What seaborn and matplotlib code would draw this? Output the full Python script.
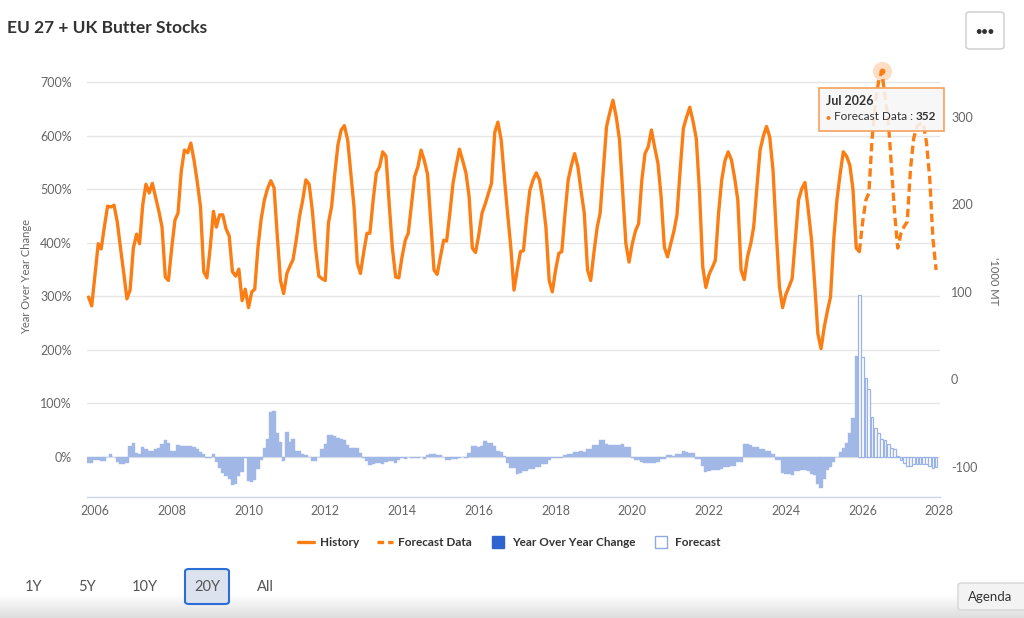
import numpy as np
import pandas as pd
import matplotlib
matplotlib.use("Agg")
import matplotlib.pyplot as plt
from matplotlib.lines import Line2D
from matplotlib.patches import FancyBboxPatch, Rectangle
from matplotlib.colors import LinearSegmentedColormap
import seaborn as sns

# ---------------------------------------------------------------
# Data
# EU 27 + UK butter stocks, '000 MT, monthly from Nov 2005
history_start = "2005-11-01"
history_stock = [
    94, 84,                                                       # 2005
    120, 155, 149, 175, 198, 197, 199, 180, 150, 122, 92, 102,    # 2006
    150, 166, 155, 200, 223, 213, 224, 208, 192, 174, 117, 113,   # 2007
    150, 182, 190, 238, 262, 259, 270, 250, 225, 197, 123, 116,   # 2008
    150, 192, 174, 188, 188, 172, 164, 123, 118, 126, 90, 103,    # 2009
    82, 100, 103, 151, 183, 205, 218, 227, 219, 165, 113, 98,     # 2010
    121, 130, 137, 160, 186, 205, 228, 223, 192, 150, 118, 115,   # 2011
    113, 179, 197, 235, 268, 285, 290, 274, 235, 197, 133, 121,   # 2012
    145, 167, 167, 205, 236, 243, 260, 255, 200, 150, 117, 116,   # 2013
    140, 159, 167, 200, 232, 243, 262, 250, 234, 180, 125, 120,   # 2014
    140, 159, 158, 190, 224, 245, 263, 250, 236, 209, 150, 145,   # 2015
    165, 190, 200, 212, 224, 282, 294, 274, 230, 190, 151, 102,   # 2016
    125, 146, 147, 185, 216, 228, 236, 228, 205, 174, 113, 100,   # 2017
    125, 144, 146, 190, 228, 245, 258, 243, 215, 190, 125, 113,   # 2018
    145, 174, 190, 240, 289, 305, 319, 300, 274, 215, 155, 134,   # 2019
    155, 170, 178, 228, 258, 266, 285, 265, 247, 209, 151, 140,   # 2020
    155, 170, 188, 240, 287, 300, 311, 295, 275, 215, 129, 105,   # 2021
    120, 128, 136, 190, 228, 250, 260, 251, 230, 205, 125, 114,   # 2022
    140, 155, 174, 220, 262, 278, 289, 277, 239, 170, 106, 82,    # 2023
    97, 106, 115, 160, 205, 218, 225, 194, 160, 110, 52, 35,      # 2024
    60, 79, 94, 160, 205, 235, 260, 255, 245, 217, 150, 146,      # 2025
]
# forecast, Dec 2025 .. Dec 2027
forecast_start = "2025-12-01"
forecast_stock = [
    146,
    180, 205, 213, 275, 315, 340, 352, 325, 297, 245, 190, 150,   # 2026
    167, 175, 180, 240, 275, 289, 292, 293, 270, 230, 160, 125,   # 2027
]

# year over year change, %, Nov 2005 .. Nov 2025
yoy_start = "2005-11-01"
yoy_history = [
    -12, -12,
    -6, -6, -8, -8, 0, 5, 0, -9, -14, -14, -12, 20,
    27, 7, 5, 19, 14, 11, 11, 14, 17, 25, 31, 27,
    11, 11, 23, 20, 20, 21, 20, 19, 15, 9, 5, -1,
    -1, 5, -9, -20, -29, -36, -41, -52, -50, -36, -28, -2,
    -44, -47, -43, -22, -6, 16, 33, 84, 86, 44, 28, -8,
    46, 28, 33, 12, 11, 6, 4, 0, -7, -7, 0, 14,
    24, 41, 41, 39, 36, 34, 31, 22, 17, 16, 16, 7,
    -2, -8, -15, -13, -12, -12, -13, -9, -7, -7, -12, -6,
    -2, -4, 0, -1, -1, -1, 0, -4, 3, 6, 6, 3,
    3, 0, -5, -5, -4, -4, -2, 0, -2, 7, 20, 21,
    19, 21, 30, 27, 27, 20, 12, 9, 1, -11, -20, -20,
    -31,
    -30, -27, -27, -22, -22, -19, -19, -14, -14, -6, -2, -2,
    -2, -2, 3, 6, 6, 9, 9, 11, 9, 14, 14, 22,
    22, 31, 31, 25, 23, 23, 23, 23, 25, 19, 19, -2,
    -6, -6, -9, -12, -12, -12, -12, -9, -3, -3, 4, 4,
    2, 6, 6, 11, 9, 7, 7, -3, -3, -16, -28, -26,
    -25, -25, -25, -22, -19, -19, -16, -16, -9, -9, 24, 24,
    22, 19, 19, 14, 14, 11, 11, 5, -6, -6, -30, -31,
    -31, -34, -26, -26, -24, -24, -26, -31, -34, -50, -58, -41,
    -25, -19, -9, 0, 9, 16, 26, 44, 72, 188,
]
# forecast year over year change, %, Dec 2025 .. Dec 2027
yoy_fc_start = "2025-12-01"
yoy_forecast = [
    303,
    186, 147, 126, 74, 54, 44, 34, 32, 25, 17, 14, 1,
    -6, -11, -16, -16, -14, -14, -14, -14, -14, -16, -21, -18,
]

year_ticks = list(range(2006, 2029, 2))
left_ticks = list(range(0, 800, 100))
right_ticks = list(range(-100, 400, 100))
range_buttons = ["1Y", "5Y", "10Y", "20Y", "All"]
legend_labels = ["History", "Forecast Data", "Year Over Year Change", "Forecast"]

ORANGE = "#fb7e14"
BLUE = "#2f63d0"
BAR_FILL = "#a1b8e7"
BAR_EDGE = "#9cb3e6"
GREY = "#666666"
DARK = "#333333"

hist_dates = pd.date_range(history_start, periods=len(history_stock), freq="MS")
fc_dates = pd.date_range(forecast_start, periods=len(forecast_stock), freq="MS")
yoy_dates = pd.date_range(yoy_start, periods=len(yoy_history), freq="MS")
yoy_fc_dates = pd.date_range(yoy_fc_start, periods=len(yoy_forecast), freq="MS")

# ---------------------------------------------------------------
sns.set_theme(style="white")
plt.rcParams["font.family"] = ["Lato", "DejaVu Sans"]

W, H = 1024, 618
def fx(px):
    return px / W
def fy(py):
    return 1 - py / H

fig = plt.figure(figsize=(W / 100, H / 100), dpi=100)
fig.patch.set_facecolor("white")

# soft grey band at the very bottom (range selector strip)
gax = fig.add_axes([0, 0, 1, fy(594)])
gax.imshow(np.linspace(0, 1, 60).reshape(-1, 1), aspect="auto",
           cmap=LinearSegmentedColormap.from_list("g", ["#ffffff", "#dedede"]),
           extent=[0, 1, 0, 1])
gax.axis("off")

ax = fig.add_axes([fx(87), fy(497), fx(940) - fx(87), fy(60) - fy(497)])
ax2 = ax.twinx()

# bars: year over year change (left axis)
ax.bar(yoy_dates, yoy_history, width=pd.Timedelta(days=31), color=BAR_FILL,
       edgecolor=BAR_FILL, linewidth=0.3, zorder=2)
ax.bar(yoy_fc_dates, yoy_forecast, width=pd.Timedelta(days=26),
       facecolor="white", edgecolor=BAR_EDGE, linewidth=0.9, zorder=2)

# lines: stocks (right axis)
sns.lineplot(x=hist_dates, y=history_stock, ax=ax2, color=ORANGE,
             linewidth=2.4, solid_joinstyle="round")
sns.lineplot(x=fc_dates, y=forecast_stock, ax=ax2, color=ORANGE,
             linewidth=2.4, linestyle=(0, (2.5, 1.3)))

# hovered point
peak_i = int(np.argmax(forecast_stock))
peak_date = fc_dates[peak_i]
peak_val = forecast_stock[peak_i]
ax2.scatter([peak_date], [peak_val], s=190, color=ORANGE, alpha=0.25,
            linewidth=0, zorder=5)
ax2.scatter([peak_date], [peak_val], s=18, color=ORANGE, linewidth=0, zorder=6)

# axes
ax.set_xlim(pd.Timestamp("2005-10-17"), pd.Timestamp("2028-01-07"))
ax.set_ylim(-74.7, 741)
ax2.set_ylim(-134.5, 365)

ax.set_yticks(left_ticks)
ax.set_yticklabels([f"{t}%" for t in left_ticks])
ax2.set_yticks(right_ticks)
ax2.set_yticklabels([str(t) for t in right_ticks])
ax.set_xticks([pd.Timestamp(f"{y}-01-01") for y in year_ticks])
ax.set_xticklabels([str(y) for y in year_ticks])

ax.tick_params(axis="y", length=0, pad=11, labelsize=9, labelcolor=GREY)
ax.tick_params(axis="x", length=0, pad=6, labelsize=9, labelcolor=GREY)
ax2.tick_params(axis="y", length=0, pad=8, labelsize=9, labelcolor=GREY)

ax.set_axisbelow(True)
ax.grid(axis="y", color="#e6e6e6", linewidth=1)
ax.grid(axis="x", visible=False)
ax2.grid(False)
ax.set_xlabel("")
ax.set_ylabel("")
ax2.set_xlabel("")
ax2.set_ylabel("")

for side in ["top", "left", "right"]:
    ax.spines[side].set_visible(False)
ax.spines["bottom"].set_color("#ccd6eb")
ax.spines["bottom"].set_linewidth(1)
for side in ax2.spines:
    ax2.spines[side].set_visible(False)

# axis titles
fig.text(fx(27), fy(277), "Year Over Year Change", rotation=90,
         ha="center", va="center", fontsize=8, color=GREY)
fig.text(fx(993), fy(281), "'1000 MT", rotation=270,
         ha="center", va="center", fontsize=8, color=GREY)

# chart title
fig.text(fx(7), fy(28), "EU 27 + UK Butter Stocks", ha="left", va="center",
         fontsize=12.5, fontweight="bold", color=DARK)

# menu button
fig.add_artist(FancyBboxPatch((fx(966), fy(49)), fx(1004) - fx(966), fy(12) - fy(49),
                              boxstyle="round,pad=0,rounding_size=0.004",
                              transform=fig.transFigure, facecolor="white",
                              edgecolor="#cccccc", linewidth=1))
fig.text(fx(985), fy(31), "•••", ha="center", va="center", fontsize=8,
         fontweight="bold", color=DARK)

# tooltip
fig.add_artist(Rectangle((fx(819), fy(131)), fx(944) - fx(819), fy(88) - fy(131),
                         transform=fig.transFigure, facecolor=(0.97, 0.97, 0.97, 0.88),
                         edgecolor="#f5a15c", linewidth=1.2, zorder=6))
fig.text(fx(826), fy(101), peak_date.strftime("%b %Y"), ha="left", va="center",
         fontsize=9, fontweight="bold", color=DARK, zorder=7)
fig.text(fx(826), fy(117), "●", ha="left", va="center", fontsize=6,
         color=ORANGE, zorder=7)
tip_lbl = fig.text(fx(834), fy(117), "Forecast Data :", ha="left", va="center",
                   fontsize=8.5, color=DARK, zorder=7)
renderer = fig.canvas.get_renderer()
tip_end = tip_lbl.get_window_extent(renderer=renderer).x1
fig.text(fx(tip_end + 3), fy(117), str(peak_val), ha="left", va="center",
         fontsize=8.5, fontweight="bold", color=DARK, zorder=7)

# legend
handles = [
    Line2D([], [], color=ORANGE, linewidth=2.4),
    Line2D([], [], color=ORANGE, linewidth=2.4, linestyle=(0, (2, 1.2))),
    Line2D([], [], marker="s", linestyle="none", markersize=8,
           markerfacecolor=BLUE, markeredgecolor=BLUE),
    Line2D([], [], marker="s", linestyle="none", markersize=8,
           markerfacecolor="white", markeredgecolor="#8fa9e2", markeredgewidth=1),
]
fig.legend(handles, legend_labels, loc="center", bbox_to_anchor=(fx(509), fy(543)),
           ncol=4, frameon=False, handlelength=1.4, handletextpad=0.45,
           columnspacing=1.5, prop={"weight": "bold", "size": 8.5},
           labelcolor=DARK)

# range selector
button_x = [33.5, 87, 145, 207, 265.5]
fig.add_artist(FancyBboxPatch((fx(185), fy(604)), fx(229) - fx(185), fy(569) - fy(604),
                              boxstyle="round,pad=0,rounding_size=0.004",
                              transform=fig.transFigure, facecolor="#dde3ee",
                              edgecolor="#2b6fd6", linewidth=1.5))
for bx, lab in zip(button_x, range_buttons):
    fig.text(fx(bx), fy(587), lab, ha="center", va="center", fontsize=10.5,
             color="#555555")

# agenda tab
fig.add_artist(FancyBboxPatch((fx(958), fy(610)), fx(1030) - fx(958), fy(583) - fy(610),
                              boxstyle="round,pad=0,rounding_size=0.004",
                              transform=fig.transFigure, facecolor="#f3f3f3",
                              edgecolor="#d5d5d5", linewidth=1))
fig.text(fx(990), fy(597), "Agenda", ha="center", va="center", fontsize=9.5,
         color=DARK)

fig.savefig("out.png", dpi=100)
